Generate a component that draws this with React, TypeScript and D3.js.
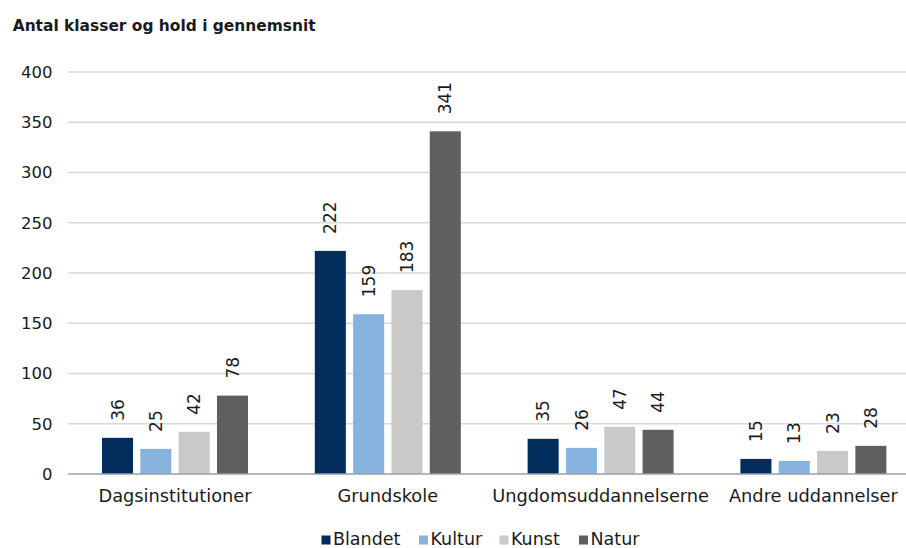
import React from "react";
import * as d3 from "d3";

const categories = ["Dagsinstitutioner", "Grundskole", "Ungdomsuddannelserne", "Andre uddannelser"];
const seriesNames = ["Blandet", "Kultur", "Kunst", "Natur"];
const blandet = [36, 222, 35, 15];
const kultur = [25, 159, 26, 13];
const kunst = [42, 183, 47, 23];
const natur = [78, 341, 44, 28];
const yTicks = [0, 50, 100, 150, 200, 250, 300, 350, 400];
const colors = ["#002d5b", "#86b4de", "#c9c9c9", "#5f5f5f"];
const title = "Antal klasser og hold i gennemsnit";

const W = 906;
const H = 548;
const FONT = "'DejaVu Sans', sans-serif";
const TEXT = "#1b1b1b";

export default function App() {
  const values = [blandet, kultur, kunst, natur];
  const y = d3.scaleLinear().domain([0, 400]).range([474, 72]);
  const x0 = d3.scaleBand<string>().domain(categories).range([68.6, 919.8]).padding(0);
  const bw = x0.bandwidth();
  const x1 = d3
    .scaleBand<string>()
    .domain(seriesNames)
    .range([33.4, bw - 33.4])
    .paddingInner(0.19)
    .paddingOuter(0);

  const legendX = [321.5, 419, 499.5, 579];

  return (
    <svg width={W} height={H} style={{ position: "absolute", left: 0, top: 0, background: "#fff" }}>
      <text x={12.7} y={31} fontFamily={FONT} fontWeight="bold" fontSize={15} fill={TEXT} textLength={303} lengthAdjust="spacingAndGlyphs">
        {title}
      </text>
      {yTicks.map((t) => (
        <g key={t}>
          {t !== 0 && <line x1={68} x2={W} y1={y(t)} y2={y(t)} stroke="#d9d9d9" strokeWidth={1.5} />}
          <text x={52.5} y={y(t)} dy="0.36em" textAnchor="end" fontFamily={FONT} fontSize={16.5} fill={TEXT}>
            {t}
          </text>
        </g>
      ))}
      {categories.map((c, ci) => (
        <g key={c} transform={`translate(${x0(c)},0)`}>
          {seriesNames.map((s, si) => {
            const v = values[si][ci];
            const bx = x1(s)!;
            const cx = bx + x1.bandwidth() / 2;
            const ty = y(v) - 17;
            return (
              <g key={s}>
                <rect x={bx} y={y(v)} width={x1.bandwidth()} height={y(0) - y(v)} fill={colors[si]} />
                <text
                  transform={`translate(${cx},${ty}) rotate(-90)`}
                  x={0}
                  y={0}
                  dy="0.36em"
                  textAnchor="start"
                  fontFamily={FONT}
                  fontSize={17}
                  fill={TEXT}
                >
                  {v}
                </text>
              </g>
            );
          })}
          <text x={bw / 2} y={502} textAnchor="middle" fontFamily={FONT} fontSize={17.8} fill={TEXT}>
            {c}
          </text>
        </g>
      ))}
      <line x1={68} x2={W} y1={y(0)} y2={y(0)} stroke="#9d9da6" strokeWidth={1.5} />
      {seriesNames.map((s, i) => (
        <g key={s}>
          <rect x={legendX[i]} y={535.5} width={9} height={9} fill={colors[i]} />
          <text x={legendX[i] + 11.5} y={545} fontFamily={FONT} fontSize={17.5} fill={TEXT}>
            {s}
          </text>
        </g>
      ))}
    </svg>
  );
}
